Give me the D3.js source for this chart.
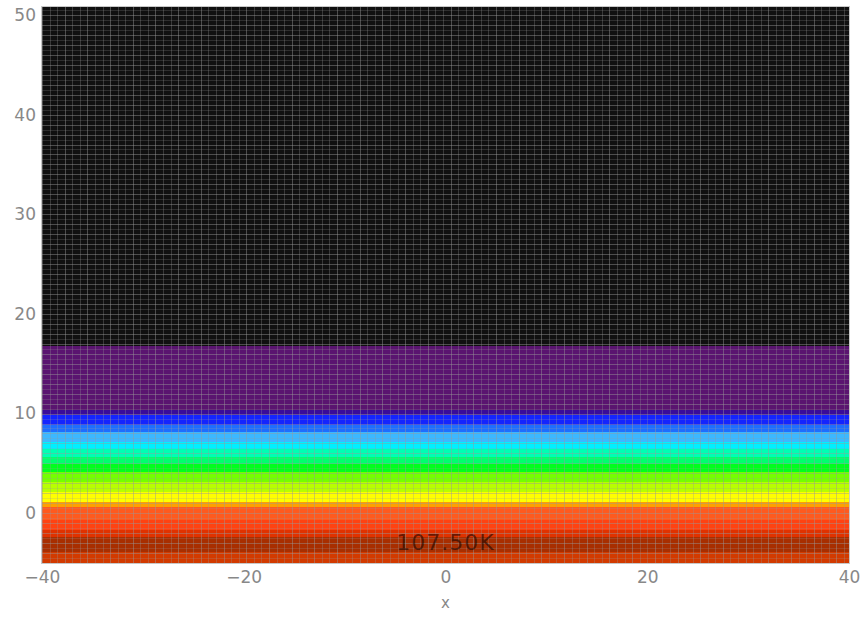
<!DOCTYPE html>
<html>
<head>
<meta charset="utf-8">
<script src="https://cdn.jsdelivr.net/npm/d3@7"></script>
<style>
  html, body { margin: 0; padding: 0; background: #ffffff; }
  svg { display: block; }
  text { font-family: "DejaVu Sans", sans-serif; }
</style>
</head>
<body>
<svg id="chart" width="861" height="617"></svg>
<script>
// Filled contour bands of the field, which varies with height only.
// Each band runs from bandLow to bandHigh (in y) and carries one fill colour.
const bandHigh  = [50.8, 16.8, 10.35, 9.85, 8.85, 8.15, 7.15, 6.45, 5.65, 4.95, 4.15, 3.15, 2.15, 1.1, 0.6, -0.7, -1.7, -2.4, -3.9];
const bandLow   = [16.8, 10.35, 9.85, 8.85, 8.15, 7.15, 6.45, 5.65, 4.95, 4.15, 3.15, 2.15, 1.1, 0.6, -0.7, -1.7, -2.4, -3.9, -5.0];
const bandColor = ["#101010", "#5a1470", "#3a0c9a", "#1424ff", "#1e6eff", "#3cb8ff", "#00f0ff",
                   "#00ffb4", "#00ff6e", "#00ff1e", "#74ff00", "#b8ff00", "#ffff00", "#ffa000",
                   "#ff5a1e", "#ff4212", "#e03200", "#a82e00", "#d23a00"];

// Axis ranges and tick labels
const xDomain = [-40, 40];
const yDomain = [-5, 50.8];
const xTicks = [-40, -20, 0, 20, 40];
const yTicks = [0, 10, 20, 30, 40, 50];
const xTitle = "x";

// Spacing of the computational mesh drawn over the fill
const meshStepX = 0.75;
const meshStepY = 0.5;

const svg = d3.select("#chart");
const margin = { left: 42, right: 12, top: 7, bottom: 54 };
const W = 861, H = 617;

const x = d3.scaleLinear().domain(xDomain).range([margin.left, W - margin.right]);
const y = d3.scaleLinear().domain(yDomain).range([H - margin.bottom, margin.top]);

svg.append("defs").append("clipPath").attr("id", "plot-clip")
  .append("rect")
  .attr("x", x(xDomain[0])).attr("y", y(yDomain[1]))
  .attr("width", x(xDomain[1]) - x(xDomain[0]))
  .attr("height", y(yDomain[0]) - y(yDomain[1]));

const plot = svg.append("g").attr("clip-path", "url(#plot-clip)");

// Colour bands
const bands = bandColor.map((c, i) => ({ hi: bandHigh[i], lo: bandLow[i], color: c }));
plot.selectAll("rect.band").data(bands).join("rect")
  .attr("class", "band")
  .attr("x", x(xDomain[0]))
  .attr("width", x(xDomain[1]) - x(xDomain[0]))
  .attr("y", d => y(d.hi))
  .attr("height", d => y(d.lo) - y(d.hi))
  .attr("fill", d => d.color)
  .attr("shape-rendering", "crispEdges");

// Mesh overlay
const meshX = d3.range(xDomain[0], xDomain[1] + 1e-9, meshStepX);
const meshY = d3.range(yDomain[0], yDomain[1] + 1e-9, meshStepY);
plot.append("g").selectAll("line").data(meshX).join("line")
  .attr("x1", d => Math.round(x(d)) + 0.5).attr("x2", d => Math.round(x(d)) + 0.5)
  .attr("y1", y(yDomain[1])).attr("y2", y(yDomain[0]))
  .attr("stroke", "#999999").attr("stroke-opacity", (d, i) => i % 3 === 0 ? 0.45 : 0.3).attr("stroke-width", 1);
plot.append("g").selectAll("line").data(meshY).join("line")
  .attr("y1", d => Math.round(y(d)) + 0.5).attr("y2", d => Math.round(y(d)) + 0.5)
  .attr("x1", x(xDomain[0])).attr("x2", x(xDomain[1]))
  .attr("stroke", "#999999")
  .attr("stroke-opacity", (d, i) => i % 2 === 0 ? 0.45 : 0.22)
  .attr("stroke-width", 1);

// Contour label near the bottom
plot.append("text")
  .attr("x", x(0)).attr("y", y(-3.7))
  .attr("text-anchor", "middle")
  .attr("font-size", 22)
  .attr("fill", "#1a0500").attr("fill-opacity", 0.6)
  .attr("letter-spacing", 1)
  .text("107.50K");

// Plot frame
svg.append("rect")
  .attr("x", x(xDomain[0]) - 0.5).attr("y", y(yDomain[1]) - 0.5)
  .attr("width", x(xDomain[1]) - x(xDomain[0]) + 1)
  .attr("height", y(yDomain[0]) - y(yDomain[1]) + 1)
  .attr("fill", "none").attr("stroke", "#c8c8c8").attr("stroke-width", 1);

// Axes
const fmt = d => (d < 0 ? "\u2212" : "") + Math.abs(d);
const xAxis = d3.axisBottom(x).tickValues(xTicks).tickSize(0).tickPadding(8).tickFormat(fmt);
const yAxis = d3.axisLeft(y).tickValues(yTicks).tickSize(0).tickPadding(6).tickFormat(fmt);

const gx = svg.append("g").attr("transform", `translate(0,${y(yDomain[0])})`).call(xAxis);
const gy = svg.append("g").attr("transform", `translate(${x(xDomain[0])},0)`).call(yAxis);
[gx, gy].forEach(g => {
  g.select(".domain").remove();
  g.selectAll("text").attr("fill", "#888888").attr("font-size", 17).attr("font-family", "DejaVu Sans, sans-serif");
});

svg.append("text")
  .attr("x", x(0)).attr("y", 608)
  .attr("text-anchor", "middle")
  .attr("fill", "#888888").attr("font-size", 15)
  .text(xTitle);
</script>
</body>
</html>
